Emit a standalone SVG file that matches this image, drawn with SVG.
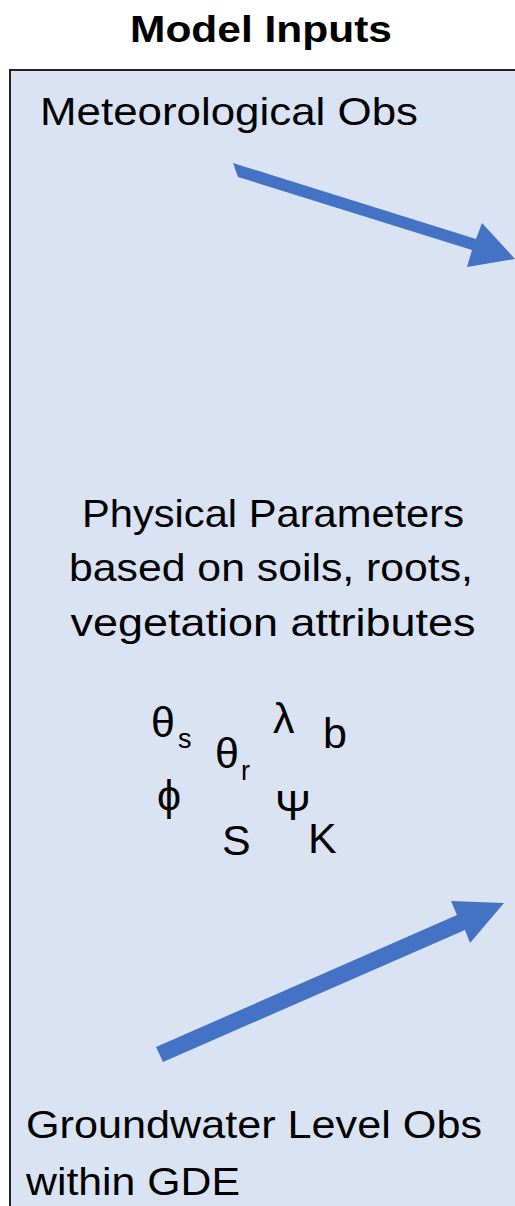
<svg xmlns="http://www.w3.org/2000/svg" width="515" height="1206" viewBox="0 0 515 1206">
<style>
.t{font-family:"Liberation Sans",Arial,sans-serif;font-size:39px;fill:#000}
.h{font-family:"Liberation Sans",Arial,sans-serif;font-size:37px;font-weight:bold;fill:#000}
.sym{font-family:"Liberation Sans",Arial,sans-serif;font-size:43px;fill:#000}
.sub{font-family:"Liberation Sans",Arial,sans-serif;font-size:27px;fill:#000}
.arr{fill:#4472c4}
</style>
<rect width="515" height="1206" fill="#ffffff"/>
<text class="h" x="130" y="42" textLength="262" lengthAdjust="spacingAndGlyphs">Model Inputs</text>
<g id="panel">
<rect x="10" y="70" width="520" height="1160" fill="#dae3f3" stroke="#222" stroke-width="2"/>
</g>
<g id="met">
<text class="t" x="40" y="125" textLength="378" lengthAdjust="spacingAndGlyphs">Meteorological Obs</text>
</g>
<g id="phys">
<text class="t" x="273" y="527" text-anchor="middle" textLength="382" lengthAdjust="spacingAndGlyphs">Physical Parameters</text>
<text class="t" x="271" y="581" text-anchor="middle" textLength="404" lengthAdjust="spacingAndGlyphs">based on soils, roots,</text>
<text class="t" x="273" y="636" text-anchor="middle" textLength="405" lengthAdjust="spacingAndGlyphs">vegetation attributes</text>
<text class="sym" x="151" y="737">θ</text><text class="sub" x="178" y="748">s</text>
<text class="sym" x="215" y="768">θ</text><text class="sub" x="241" y="780">r</text>
<text class="sym" x="273" y="733">λ</text>
<text class="sym" x="323" y="748">b</text>
<text class="sym" x="157" y="810">ϕ</text>
<text class="sym" x="275" y="820">Ψ</text>
<text class="sym" x="222" y="855">S</text>
<text class="sym" x="308" y="853">K</text>
</g>
<g id="gw">
<text class="t" x="26" y="1138" textLength="456" lengthAdjust="spacingAndGlyphs">Groundwater Level Obs</text>
<text class="t" x="26" y="1195" textLength="214" lengthAdjust="spacingAndGlyphs">within GDE</text>
</g>
<g id="connectors">
<polygon class="arr" points="233,163 476,239 482,223 515,259 467,267 472,250 238,177"/>
<polygon class="arr" points="156,1047 457,915 451,901 504,903 470,943 465,930 163,1062"/>
</g>
</svg>
